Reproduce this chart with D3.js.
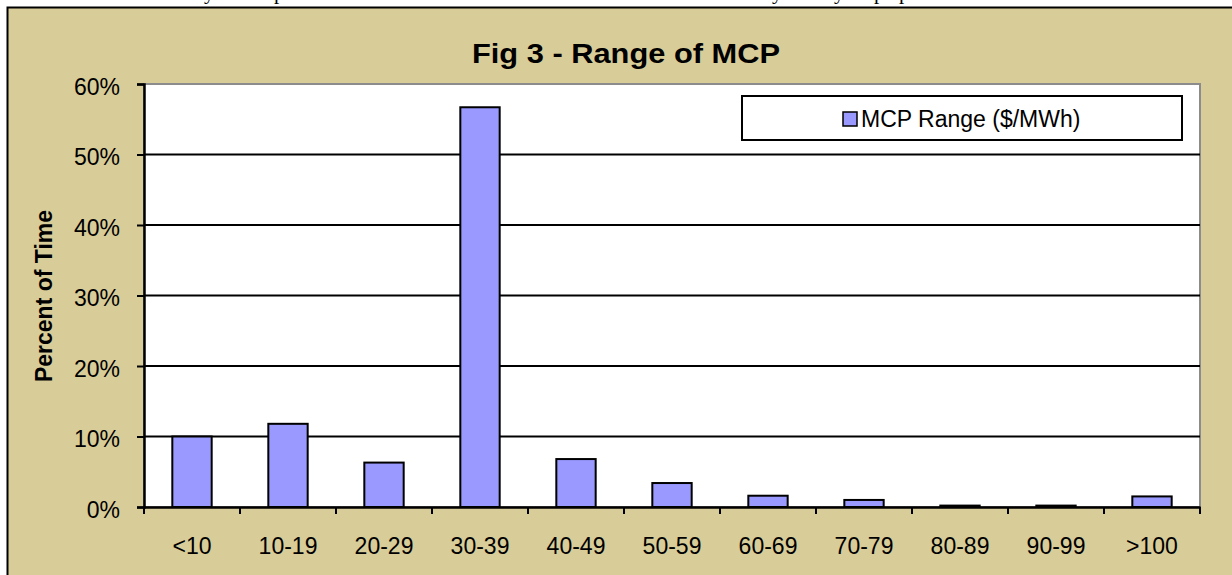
<!DOCTYPE html>
<html>
<head>
<meta charset="utf-8">
<script src="https://cdn.jsdelivr.net/npm/d3@7"></script>
<style>
  body { margin: 0; background: #fff; overflow: hidden; }
  svg text { font-family: "Liberation Sans", Arial, sans-serif; }
</style>
</head>
<body>
<div id="chart"></div>
<script>
  // data
  var categories = ["<10", "10-19", "20-29", "30-39", "40-49", "50-59", "60-69", "70-79", "80-89", "90-99", ">100"];
  var values = [10.0, 11.8, 6.3, 56.7, 6.8, 3.4, 1.6, 1.0, 0.2, 0.2, 1.5];
  var yTicks = [0, 10, 20, 30, 40, 50, 60];
  var seriesName = "MCP Range ($/MWh)";
  var chartTitle = "Fig 3 - Range of MCP";
  var yTitle = "Percent of Time";
  // descenders of the document line cut off above the chart
  var pageGlyphs = [{t: "y", x: 204}, {t: "p", x: 274}, {t: "y", x: 772}, {t: "y", x: 834}, {t: "p", x: 874}, {t: "p", x: 899}];

  var W = 1232, H = 575;
  var margin = {top: 84, right: 32, bottom: 68, left: 144},
      width = W - margin.left - margin.right,
      height = H - margin.top - margin.bottom;

  var svg = d3.select("#chart")
    .append("svg")
      .attr("width", W)
      .attr("height", H);

  // text line of the page, mostly above the window
  svg.selectAll(".pg")
    .data(pageGlyphs)
    .enter().append("text")
      .attr("x", function(d) { return d.x; })
      .attr("y", -1)
      .style("font-family", "'Liberation Serif', serif")
      .style("font-size", "21px")
      .text(function(d) { return d.t; });

  // tan chart area with black frame
  svg.append("rect")
    .attr("x", 7.5).attr("y", 7.5)
    .attr("width", W + 20).attr("height", H + 20)
    .attr("fill", "#d8cc98")
    .attr("stroke", "#000")
    .attr("stroke-width", 2);

  var g = svg.append("g")
    .attr("transform", "translate(" + margin.left + "," + margin.top + ")");

  var x = d3.scaleBand()
    .domain(categories)
    .range([0, width])
    .padding(0);

  var y = d3.scaleLinear()
    .domain([0, 60])
    .range([height, 0]);

  // plot area
  g.append("rect")
    .attr("width", width)
    .attr("height", height)
    .attr("fill", "#fff")
    .attr("stroke", "#8c8c8c")
    .attr("stroke-width", 2);

  // gridlines
  g.selectAll(".grid")
    .data(yTicks.filter(function(d) { return d > 0 && d < 60; }))
    .enter().append("line")
      .attr("x1", 0).attr("x2", width)
      .attr("y1", function(d) { return y(d); })
      .attr("y2", function(d) { return y(d); })
      .attr("stroke", "#000")
      .attr("stroke-width", 1.8);

  // bars
  var bw = x.bandwidth() * 0.41;
  g.selectAll(".bar")
    .data(values)
    .enter().append("rect")
      .attr("x", function(d, i) { return x(categories[i]) + (x.bandwidth() - bw) / 2; })
      .attr("y", function(d) { return y(d); })
      .attr("width", bw)
      .attr("height", function(d) { return height - y(d); })
      .attr("fill", "#9999ff")
      .attr("stroke", "#000")
      .attr("stroke-width", 2);

  // y axis
  var yAxis = g.append("g")
    .call(d3.axisLeft(y).tickValues(yTicks).tickSize(7).tickPadding(17)
      .tickFormat(function(d) { return d + "%"; }));
  yAxis.select(".domain").attr("stroke", "#000").attr("stroke-width", 2.5);
  yAxis.selectAll(".tick line").attr("stroke-width", 2);
  yAxis.selectAll("text")
    .attr("dy", "0.45em")
    .style("font-size", "23px")
    .attr("fill", "#000");

  // x axis: labels centred, ticks at category edges
  var xAxis = g.append("g")
    .attr("transform", "translate(0," + height + ")")
    .call(d3.axisBottom(x).tickSize(0).tickPadding(31));
  xAxis.select(".domain").attr("stroke", "#000").attr("stroke-width", 2.5);
  xAxis.selectAll("text")
    .style("font-size", "23px")
    .attr("fill", "#000");

  var edges = categories.map(function(c) { return x(c); }).concat([width]);
  xAxis.selectAll(".edge")
    .data(edges)
    .enter().append("line")
      .attr("x1", function(d) { return d; })
      .attr("x2", function(d) { return d; })
      .attr("y1", 0).attr("y2", 7)
      .attr("stroke", "#000")
      .attr("stroke-width", 2);

  // title
  svg.append("text")
    .attr("x", 626)
    .attr("y", 63)
    .attr("text-anchor", "middle")
    .attr("textLength", 308)
    .attr("lengthAdjust", "spacingAndGlyphs")
    .style("font-size", "28px")
    .style("font-weight", "bold")
    .text(chartTitle);

  // y title
  svg.append("text")
    .attr("transform", "translate(52,296) rotate(-90)")
    .attr("text-anchor", "middle")
    .style("font-size", "23px")
    .style("font-weight", "bold")
    .text(yTitle);

  // legend
  var lg = svg.append("g").attr("transform", "translate(742,96)");
  lg.append("rect")
    .attr("width", 440).attr("height", 44)
    .attr("fill", "#fff")
    .attr("stroke", "#000")
    .attr("stroke-width", 2);
  lg.append("rect")
    .attr("x", 101).attr("y", 16)
    .attr("width", 14).attr("height", 14)
    .attr("fill", "#9999ff")
    .attr("stroke", "#000")
    .attr("stroke-width", 1.5);
  lg.append("text")
    .attr("x", 119).attr("y", 31)
    .style("font-size", "23px")
    .text(seriesName);
</script>
</body>
</html>
